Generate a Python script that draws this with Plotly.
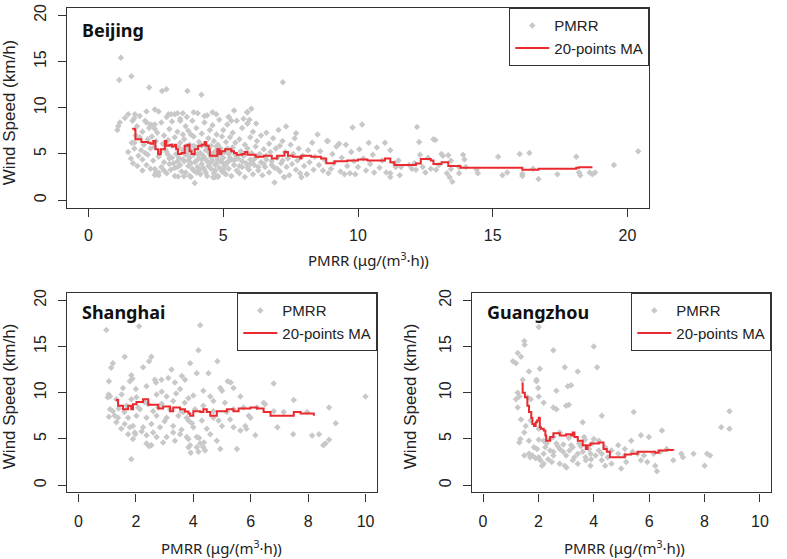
import plotly.graph_objects as go

# ---------------- data ----------------
bj_points = [
    (1.2, 15.4), (1.14, 13.0), (1.59, 13.4), (2.25, 12.2), (2.73, 11.8), (2.89, 12.0), (3.67, 11.8),
    (4.19, 11.4), (7.21, 12.76),
    (1.07, 7.6), (1.1, 8.0), (1.16, 8.4), (1.35, 8.9), (1.47, 9.3), (1.72, 9.3), (1.63, 8.6), (2.15, 9.6),
    (2.46, 9.8), (2.15, 8.4), (2.3, 8.2), (2.46, 8.2), (2.46, 7.7), (2.97, 9.3), (3.07, 9.3), (3.3, 9.4),
    (3.5, 9.4), (3.9, 9.5), (4.3, 9.1), (4.74, 9.3), (5.2, 9.0), (5.3, 8.6), (3.4, 8.6), (1.47, 5.2),
    (1.57, 4.5), (1.81, 3.7), (1.7, 6.2), (3.94, 1.86), (3.32, 2.55), (2.46, 3.37), (2.6, 3.0), (4.62, 2.47),
    (4.8, 2.6), (3.75, 2.65), (3.54, 2.58), (4.68, 2.47), (6.9, 1.9), (2.46, 2.72), (6.04, 9.9), (5.88, 9.5),
    (5.75, 8.8), (5.97, 8.7), (5.9, 8.3), (6.22, 8.3), (7.33, 7.96), (7.7, 7.24), (6.6, 7.3), (8.5, 7.1),
    (8.88, 6.4), (9.3, 6.1), (9.55, 6.0), (9.8, 7.85), (10.15, 8.2), (10.4, 6.2), (10.7, 5.7), (11.0, 6.2),
    (11.2, 5.4), (7.27, 2.47), (7.45, 2.7), (7.9, 2.47), (8.1, 2.8), (8.7, 3.2), (9.0, 3.4), (9.5, 2.8),
    (9.7, 2.9), (9.9, 2.8), (10.3, 3.2), (10.6, 3.0), (11.2, 2.9), (11.2, 2.5),
    (1.6, 6.2), (1.7, 5.6), (1.75, 7.0), (1.8, 8.0), (1.85, 4.8), (1.9, 6.8), (1.95, 5.4), (2.0, 7.4),
    (2.0, 4.4), (2.05, 6.0), (2.1, 8.6), (2.1, 5.1), (2.15, 3.8), (2.2, 6.6), (2.2, 4.9), (2.25, 7.8),
    (2.3, 5.6), (2.3, 3.4), (2.35, 6.9), (2.4, 4.3), (2.4, 8.1), (2.45, 5.8), (2.5, 3.0), (2.5, 6.4),
    (1.7, 8.9), (1.9, 9.1), (2.0, 3.2), (1.65, 4.0),
    (2.55, 7.3), (2.6, 4.7), (2.6, 2.7), (2.65, 5.2), (2.7, 8.4), (2.7, 3.6), (2.75, 6.1), (2.8, 4.1),
    (2.8, 7.0), (2.85, 5.5), (2.9, 2.9), (2.9, 9.0), (2.95, 6.5), (3.0, 4.5), (3.0, 7.7), (3.05, 3.3),
    (3.1, 5.9), (3.1, 8.5), (3.15, 4.0), (3.2, 6.8), (3.2, 2.6), (3.25, 5.0), (3.3, 7.4), (3.3, 3.6),
    (3.35, 4.6), (3.4, 6.2), (3.4, 8.8), (3.45, 3.1), (3.5, 5.4), (3.5, 7.1), (2.6, 9.6), (3.2, 9.3),
    (3.0, 3.9), (2.8, 3.2), (3.35, 5.7), (2.95, 4.9),
    (3.55, 4.2), (3.55, 6.6), (3.6, 3.0), (3.6, 8.0), (3.65, 5.0), (3.7, 3.7), (3.7, 7.5), (3.75, 4.6),
    (3.75, 6.0), (3.8, 2.5), (3.8, 5.4), (3.85, 8.6), (3.85, 3.4), (3.9, 4.9), (3.9, 6.9), (3.95, 4.1),
    (4.0, 3.0), (4.0, 5.7), (4.0, 7.8), (4.05, 3.6), (4.1, 4.5), (4.1, 6.3), (4.15, 2.8), (4.15, 5.1),
    (4.2, 7.2), (4.2, 3.9), (4.25, 4.8), (4.3, 8.4), (4.3, 6.0), (4.3, 3.3), (4.35, 5.4), (4.4, 2.6),
    (4.4, 4.2), (4.45, 6.7), (4.45, 3.7), (4.5, 5.0), (4.5, 7.6), (3.65, 9.0), (4.05, 9.4), (4.4, 9.2),
    (3.6, 5.8), (3.7, 4.3), (3.9, 3.2), (4.2, 5.9), (4.3, 4.6), (3.8, 7.1), (4.1, 3.4), (4.35, 3.0),
    (4.55, 3.4), (4.55, 5.9), (4.6, 4.3), (4.6, 8.1), (4.65, 2.9), (4.65, 6.4), (4.7, 3.8), (4.7, 5.3),
    (4.75, 7.1), (4.75, 4.7), (4.8, 2.5), (4.8, 6.0), (4.85, 3.5), (4.85, 8.7), (4.9, 4.2), (4.9, 5.6),
    (4.95, 6.9), (4.95, 3.1), (5.0, 4.6), (5.0, 7.6), (5.05, 3.7), (5.05, 5.2), (5.1, 6.3), (5.1, 2.8),
    (5.15, 4.1), (5.15, 8.2), (5.2, 5.0), (5.2, 3.4), (5.25, 6.8), (5.3, 4.4), (5.3, 2.6), (5.35, 5.7),
    (5.35, 7.3), (5.4, 3.8), (5.45, 4.9), (5.45, 6.2), (5.5, 3.2), (5.5, 8.6), (4.6, 9.5), (5.2, 9.0),
    (5.4, 9.7), (4.75, 4.0), (5.0, 3.3), (5.25, 4.6), (4.9, 5.0), (5.1, 3.9),
    (5.55, 4.5), (5.6, 6.6), (5.6, 2.9), (5.65, 5.3), (5.7, 3.6), (5.7, 7.8), (5.75, 4.8), (5.8, 6.0),
    (5.8, 2.5), (5.85, 4.0), (5.9, 5.6), (5.9, 8.3), (5.95, 3.3), (6.0, 6.8), (6.0, 4.4), (6.05, 5.1),
    (6.1, 2.8), (6.1, 7.4), (6.15, 3.8), (6.2, 5.8), (6.2, 4.6), (6.25, 6.4), (6.3, 3.2), (6.35, 5.0),
    (6.4, 7.0), (6.4, 4.1), (6.45, 2.7), (6.5, 5.5), (5.9, 9.5), (6.3, 3.6),
    (6.55, 3.6), (6.6, 4.8), (6.7, 6.1), (6.7, 3.0), (6.75, 5.2), (6.8, 4.2), (6.85, 6.7), (6.9, 3.5),
    (6.95, 5.6), (7.0, 4.6), (7.05, 7.6), (7.1, 3.1), (7.1, 5.9), (7.15, 4.0), (7.2, 6.4), (7.25, 2.5),
    (7.3, 5.2), (7.35, 3.6), (7.4, 4.5), (7.5, 6.0), (7.55, 3.9), (7.6, 5.0), (7.65, 6.7), (7.7, 3.3),
    (7.75, 4.3), (7.8, 5.6), (7.85, 2.9), (7.95, 4.8), (8.0, 3.7),
    (8.1, 2.8), (8.15, 5.4), (8.2, 4.1), (8.3, 6.2), (8.35, 3.3), (8.4, 4.7), (8.55, 3.8), (8.6, 5.3),
    (8.75, 4.4), (8.85, 6.4), (8.9, 2.9), (9.05, 5.0), (9.1, 4.0), (9.2, 5.8), (9.35, 3.1), (9.4, 4.6),
    (9.6, 3.7), (9.75, 5.2), (9.85, 4.2), (10.0, 3.6), (10.05, 5.5), (10.2, 4.5), (10.45, 3.9),
    (10.55, 4.9), (10.8, 3.5), (10.9, 4.3), (11.05, 3.0), (11.35, 4.0),
    (11.4, 3.6), (11.5, 4.3), (11.6, 3.6), (11.55, 2.7), (11.9, 3.8), (12.0, 3.4), (12.1, 4.0),
    (12.19, 7.92), (12.27, 6.3), (12.3, 4.9), (12.15, 3.3), (12.4, 3.6), (12.5, 3.0), (12.6, 4.6),
    (12.7, 3.4), (12.8, 6.6), (12.87, 6.5), (12.9, 3.3), (13.0, 3.8), (13.1, 5.0), (13.15, 4.8),
    (13.3, 2.9), (13.35, 4.87), (13.45, 4.27), (13.45, 3.37), (13.4, 2.47), (13.5, 2.0), (13.75, 3.6),
    (13.75, 2.9), (13.9, 4.9), (13.95, 4.4), (14.0, 3.6), (14.4, 3.3), (14.45, 2.9), (15.2, 4.7),
    (15.36, 2.7), (15.54, 3.0), (16.0, 5.0), (16.1, 2.85), (16.1, 2.6), (16.36, 5.1), (16.5, 3.4),
    (16.7, 2.3), (17.4, 2.8), (18.1, 4.7), (18.2, 3.0), (18.25, 2.7), (18.6, 3.0), (18.7, 2.8),
    (18.8, 3.0), (19.5, 3.8), (20.4, 5.3),
    (3.6, 4.9), (3.7, 5.5), (3.8, 4.0), (3.9, 5.9), (4.0, 4.3), (4.05, 5.0), (4.1, 3.1), (4.2, 4.4),
    (4.25, 3.5), (4.4, 5.6), (4.5, 4.0), (4.6, 5.0), (4.7, 3.2), (4.8, 4.4), (4.85, 5.3), (5.0, 4.0),
    (5.05, 2.9), (5.2, 4.2), (5.3, 5.3), (5.4, 4.3), (5.5, 4.7), (5.6, 3.7), (5.7, 4.2), (5.8, 4.9),
    (5.9, 3.5), (6.0, 3.9), (6.1, 4.3), (6.3, 4.8), (6.5, 3.9), (6.6, 4.4), (6.8, 3.8), (7.0, 3.4),
    (7.2, 4.3), (3.5, 4.4), (3.3, 4.2), (3.1, 4.6), (2.9, 5.2), (3.4, 3.8), (3.2, 3.5), (4.55, 4.6),
    (4.45, 5.3), (4.75, 5.8), (5.15, 5.6),
]

bj_ma = [
    (1.62, 7.74), (1.72, 7.6), (1.74, 6.6), (1.96, 6.3), (2.2, 6.2), (2.3, 6.1), (2.4, 6.4), (2.48, 5.5),
    (2.58, 4.98), (2.68, 5.5), (2.83, 6.4), (2.89, 5.9), (3.0, 6.0), (3.1, 5.8), (3.2, 6.0), (3.25, 5.5),
    (3.32, 5.0), (3.45, 5.1), (3.57, 5.9), (3.67, 6.0), (3.75, 5.3), (3.82, 5.0), (3.94, 5.5), (4.07, 5.9),
    (4.2, 6.0), (4.31, 6.3), (4.37, 5.9), (4.46, 5.5), (4.5, 4.8), (4.68, 4.8), (4.78, 5.5), (4.86, 5.0),
    (4.93, 5.3), (5.07, 5.5), (5.3, 5.3), (5.4, 5.1), (5.5, 4.9), (5.7, 5.0), (5.8, 5.2), (5.9, 4.9),
    (6.04, 4.9), (6.2, 4.7), (6.5, 4.8), (6.8, 4.5), (7.0, 4.8), (7.27, 5.2), (7.4, 4.8), (7.58, 4.7),
    (7.85, 4.5), (7.9, 4.8), (8.26, 4.7), (8.63, 4.5), (8.82, 4.0), (9.13, 4.2), (9.6, 4.3), (10.0, 4.4),
    (10.35, 4.3), (10.73, 4.3), (11.0, 4.5), (11.2, 4.1), (11.35, 3.8), (12.15, 3.97), (12.33, 4.44),
    (12.7, 4.3), (12.8, 3.9), (13.1, 4.1), (13.35, 3.7), (13.8, 3.5), (15.5, 3.5), (16.1, 3.3),
    (16.7, 3.4), (18.1, 3.5), (18.2, 3.55), (18.7, 3.55),
]

sh_points = [
    (0.97, 16.8), (2.11, 17.2), (4.24, 17.3), (4.18, 14.6), (1.61, 13.9), (1.2, 13.2), (2.54, 13.9),
    (2.46, 13.4), (4.84, 13.4), (3.89, 13.2), (3.24, 12.5), (1.14, 12.7), (2.25, 12.75), (1.84, 11.9),
    (1.88, 11.5), (1.79, 11.25), (3.13, 11.6), (3.6, 11.8), (4.12, 12.1), (4.53, 12.1), (2.66, 11.4),
    (2.7, 11.1), (2.89, 11.4), (1.06, 11.25), (5.2, 11.25), (5.3, 11.1), (6.8, 11.0), (3.36, 11.1),
    (3.71, 11.4), (2.0, 10.4), (2.37, 10.7), (1.55, 10.5), (4.94, 10.5), (5.0, 10.2), (3.54, 10.4),
    (4.35, 10.2), (5.4, 10.5), (1.05, 9.8), (1.1, 9.6), (1.02, 9.5), (2.72, 9.8), (3.07, 9.6),
    (4.59, 9.6), (5.64, 9.6), (1.32, 9.3), (1.84, 9.3), (2.02, 9.5), (3.3, 9.1), (3.83, 9.4), (4.7, 9.1),
    (6.45, 8.9), (6.5, 8.75), (7.5, 9.2), (10.0, 9.6), (8.73, 8.4), (6.8, 8.0), (5.75, 8.4), (5.4, 8.2),
    (4.35, 8.6), (1.1, 8.2), (1.2, 8.0), (1.38, 7.3), (1.06, 7.4), (1.73, 7.3), (2.02, 7.5), (2.37, 7.3),
    (2.72, 7.5), (3.07, 7.3), (3.48, 7.5), (3.77, 7.3), (3.83, 7.0), (4.7, 7.3), (4.88, 7.0), (5.28, 7.1),
    (5.93, 7.5), (5.99, 7.3), (1.32, 6.8), (1.61, 6.6), (1.79, 6.25), (1.9, 6.4), (2.25, 6.25),
    (2.54, 6.6), (2.84, 6.25), (3.3, 6.4), (3.59, 6.0), (4.0, 6.25), (4.47, 6.1), (5.0, 6.4), (5.4, 6.25),
    (5.81, 6.4), (5.85, 6.1), (6.16, 5.4), (6.93, 6.25), (8.96, 6.7), (7.48, 5.5), (8.38, 5.5),
    (8.14, 5.36), (8.73, 4.9), (8.6, 4.5), (8.53, 4.3), (1.49, 6.1), (1.73, 5.5), (1.96, 5.7), (1.98, 5.5),
    (1.9, 5.0), (2.37, 4.5), (2.46, 4.2), (2.54, 4.3), (2.72, 5.2), (3.07, 5.2), (2.95, 4.6), (3.36, 4.8),
    (3.77, 5.2), (3.83, 5.0), (4.12, 5.2), (4.2, 5.1), (3.89, 4.3), (3.83, 4.1), (4.24, 4.5), (4.12, 4.1),
    (4.35, 4.1), (4.37, 4.6), (4.82, 4.8), (4.94, 3.9), (5.52, 3.9), (3.91, 3.5), (4.18, 3.6),
    (4.41, 3.75), (1.84, 2.8), (2.37, 5.4), (3.3, 5.7), (3.54, 5.5), (4.59, 5.5), (5.64, 5.9), (2.6, 5.7),
    (1.26, 7.5), (2.08, 8.4), (2.14, 8.2), (1.67, 8.6), (2.43, 8.75), (2.78, 8.4), (3.19, 8.2),
    (3.59, 8.0), (3.65, 7.9), (4.06, 8.2), (4.7, 8.0), (5.17, 7.9), (6.22, 8.4), (7.15, 7.9), (7.97, 7.9),
    (1.5, 9.8), (2.3, 9.0), (2.9, 10.1), (3.4, 9.9), (4.0, 9.7), (1.4, 8.3), (2.6, 8.0), (3.0, 6.9),
    (3.95, 6.7), (4.3, 7.0), (2.2, 5.8), (1.6, 7.9), (2.9, 8.8), (3.7, 8.9), (5.1, 8.9),
]

sh_ma = [
    (1.3, 9.2), (1.38, 8.6), (1.55, 8.2), (1.73, 8.6), (1.84, 8.2), (1.9, 8.75), (2.02, 9.0), (2.25, 9.3),
    (2.37, 9.3), (2.43, 8.7), (2.6, 8.7), (2.78, 8.3), (2.95, 8.5), (3.19, 8.0), (3.3, 8.4), (3.54, 8.2),
    (3.71, 7.96), (3.83, 7.75), (3.89, 7.5), (4.0, 8.0), (4.24, 7.9), (4.35, 8.2), (4.47, 7.9),
    (4.59, 7.5), (4.7, 7.5), (4.82, 8.0), (5.17, 8.2), (5.4, 8.0), (5.58, 8.3), (5.99, 8.4), (6.22, 8.3),
    (6.45, 7.9), (6.69, 7.5), (7.15, 7.5), (7.5, 7.9), (7.74, 7.75), (8.2, 7.5),
]

gz_points = [
    (2.01, 17.1), (1.49, 15.6), (1.5, 15.2), (4.0, 15.0), (2.54, 14.6), (1.25, 14.3), (1.37, 13.9),
    (1.08, 13.4), (1.19, 13.2), (2.95, 12.75), (2.05, 12.6), (4.12, 12.75), (1.66, 12.3), (3.42, 12.3),
    (1.93, 11.4), (1.93, 11.25), (1.43, 11.4), (1.99, 10.5), (3.06, 10.7), (3.18, 10.8), (2.65, 10.2),
    (1.25, 10.0), (1.31, 9.6), (1.6, 9.5), (1.72, 9.3), (2.01, 9.6), (1.19, 9.3), (2.19, 8.9), (2.54, 8.4),
    (2.65, 8.2), (3.0, 8.6), (3.1, 8.7), (1.25, 8.4), (4.29, 7.5), (5.44, 7.9), (8.9, 8.0), (8.9, 6.1),
    (8.6, 6.25), (1.37, 7.1), (1.72, 7.0), (1.54, 6.4), (1.49, 5.7), (2.01, 6.1), (1.35, 5.0), (1.31, 4.6),
    (1.66, 4.8), (2.19, 4.8), (2.42, 5.0), (2.54, 5.2), (2.77, 5.7), (3.6, 6.8), (3.65, 5.2), (3.68, 4.9),
    (4.18, 4.8), (3.94, 4.5), (6.46, 5.9), (5.7, 5.4), (5.99, 5.2), (5.35, 4.8), (1.84, 4.1), (1.95, 3.9),
    (2.25, 4.1), (2.42, 3.75), (2.54, 3.6), (2.77, 3.9), (2.89, 3.6), (3.12, 3.75), (3.24, 4.1),
    (3.42, 3.4), (3.6, 3.6), (3.83, 3.9), (3.88, 3.4), (4.18, 3.75), (4.29, 3.4), (4.41, 4.1),
    (4.64, 3.75), (4.88, 3.4), (5.12, 3.2), (5.4, 3.6), (5.58, 3.4), (5.81, 3.2), (6.16, 3.4), (6.4, 3.6),
    (6.63, 3.9), (7.16, 3.4), (7.22, 3.0), (7.6, 3.4), (8.09, 3.4), (8.2, 3.2), (1.66, 3.4), (1.78, 3.2),
    (1.49, 3.2), (2.01, 3.0), (2.07, 2.7), (2.19, 2.3), (2.13, 2.1), (2.48, 2.5), (2.77, 2.3), (2.95, 2.1),
    (3.01, 1.9), (3.24, 2.7), (3.42, 2.3), (3.71, 2.7), (3.88, 2.1), (4.29, 2.7), (4.41, 2.1), (4.64, 2.3),
    (4.99, 1.8), (5.17, 2.5), (5.7, 2.7), (5.93, 2.5), (6.28, 1.5), (6.22, 2.1), (6.87, 2.7), (8.0, 2.1),
    (3.47, 4.5), (3.53, 4.2), (3.18, 4.3), (2.65, 4.5), (2.3, 4.5), (2.01, 4.9), (4.0, 5.0), (4.88, 4.3),
    (5.12, 3.9), (3.0, 3.2), (2.54, 3.2), (2.19, 3.4), (4.06, 3.2), (3.7, 3.0), (1.9, 2.9), (2.35, 2.8),
    (2.7, 4.2), (3.3, 3.0), (4.5, 3.0), (3.9, 2.8), (2.9, 4.4), (3.1, 5.1), (1.7, 3.0),
]

gz_ma = [
    (1.39, 11.0), (1.43, 10.0), (1.51, 9.5), (1.6, 8.6), (1.66, 7.9), (1.74, 7.3), (1.78, 6.6),
    (1.84, 6.4), (1.9, 6.8), (1.95, 7.0), (2.01, 7.3), (2.05, 6.25), (2.09, 6.1), (2.19, 5.9),
    (2.25, 5.36), (2.28, 4.8), (2.42, 5.2), (2.54, 5.6), (2.77, 5.36), (3.0, 5.5), (3.18, 5.36),
    (3.24, 5.7), (3.3, 5.2), (3.42, 4.8), (3.6, 4.3), (3.71, 3.9), (3.77, 4.3), (3.88, 4.5), (4.0, 4.5),
    (4.18, 4.6), (4.29, 4.6), (4.35, 3.9), (4.47, 3.6), (4.58, 3.0), (4.88, 3.0), (5.12, 3.3),
    (5.35, 3.4), (5.58, 3.6), (5.93, 3.6), (6.22, 3.5), (6.34, 3.75), (6.63, 3.8), (6.87, 3.75),
]

cities = ["Beijing", "Shanghai", "Guangzhou"]
y_ticks = [0, 5, 10, 15, 20]
bj_x_ticks = [0, 5, 10, 15, 20]
city_x_ticks = [0, 2, 4, 6, 8, 10]

# ---------------- styling ----------------
W, H = 787, 559
PT_COLOR = "#C8C8C8"
MA_COLOR = "#EA2A2E"
AX_COLOR = "#333333"
TXT = "#222222"
SANS = "Liberation Sans, Arial, sans-serif"
TITLE_FONT = "Noto Sans, DejaVu Sans, sans-serif"


def px_x(v):
    return v / W


def px_y(v):
    return 1 - v / H


fig = go.Figure()

panels = [
    (bj_points, bj_ma, "x", "y", "legend"),
    (sh_points, sh_ma, "x2", "y2", "legend2"),
    (gz_points, gz_ma, "x3", "y3", "legend3"),
]
for pts, ma, xa, ya, lg in panels:
    fig.add_trace(go.Scatter(
        x=[p[0] for p in pts], y=[p[1] for p in pts], mode="markers", name="PMRR",
        marker=dict(symbol="diamond", size=5, color=PT_COLOR, line=dict(width=0)),
        xaxis=xa, yaxis=ya, legend=lg, showlegend=True))
    fig.add_trace(go.Scatter(
        x=[p[0] for p in ma], y=[p[1] for p in ma], mode="lines", name="20-points MA",
        line=dict(color=MA_COLOR, width=2, shape="hv"),
        xaxis=xa, yaxis=ya, legend=lg, showlegend=True))

axis_common = dict(showline=True, mirror=True, linecolor=AX_COLOR, linewidth=1.3,
                   ticks="outside", ticklen=8, tickwidth=1.3, tickcolor=AX_COLOR,
                   showgrid=False, zeroline=False,
                   tickfont=dict(family=SANS, size=16, color=TXT))

top_y = [px_y(205), px_y(4)]
bot_y = [px_y(492), px_y(291)]

fig.update_layout(
    xaxis=dict(domain=[px_x(67), px_x(649)], range=[-0.8, 20.8], tickvals=bj_x_ticks,
               anchor="y", ticklabelstandoff=5, **axis_common),
    yaxis=dict(domain=top_y, range=[-0.8, 20.8], tickvals=y_ticks, tickangle=-90,
               anchor="x", ticklabelstandoff=5, **axis_common),
    xaxis2=dict(domain=[px_x(67), px_x(377)], range=[-0.4, 10.4], tickvals=city_x_ticks,
                anchor="y2", ticklabelstandoff=6, **axis_common),
    yaxis2=dict(domain=bot_y, range=[-0.8, 20.8], tickvals=y_ticks, tickangle=-90,
                anchor="x2", ticklabelstandoff=5, **axis_common),
    xaxis3=dict(domain=[px_x(472), px_x(771)], range=[-0.4, 10.4], tickvals=city_x_ticks,
                anchor="y3", ticklabelstandoff=6, **axis_common),
    yaxis3=dict(domain=bot_y, range=[-0.8, 20.8], tickvals=y_ticks, tickangle=-90,
                anchor="x3", ticklabelstandoff=5, **axis_common),
)

legend_common = dict(bgcolor="white", bordercolor=AX_COLOR, borderwidth=1.3,
                     font=dict(family=SANS, size=15, color=TXT),
                     xanchor="right", yanchor="top", tracegroupgap=0, itemwidth=34)
fig.update_layout(
    legend=dict(x=px_x(649), y=px_y(4), **legend_common),
    legend2=dict(x=px_x(377), y=px_y(291), **legend_common),
    legend3=dict(x=px_x(771), y=px_y(291), **legend_common),
)

annotations = []
# panel titles
for name, (lx, cy) in zip(cities, [(80, 26), (80, 310), (485, 310)]):
    annotations.append(dict(text=f"<b>{name}</b>", x=px_x(lx), y=px_y(cy), xref="paper", yref="paper",
                            xanchor="left", yanchor="middle", showarrow=False,
                            font=dict(family=TITLE_FONT, size=18, color="#111111")))
# x axis titles
for cx, cy in [(368, 257), (222, 547), (624, 547)]:
    annotations.append(dict(text="PMRR (μg/(m<sup>3</sup>·h))", x=px_x(cx), y=px_y(cy),
                            xref="paper", yref="paper", xanchor="center", yanchor="middle",
                            showarrow=False, font=dict(family=TITLE_FONT, size=15, color=TXT)))
# y axis titles
for cx, cy in [(9, 109), (9, 395), (410, 395)]:
    annotations.append(dict(text="Wind Speed (km/h)", x=px_x(cx), y=px_y(cy), textangle=-90,
                            xref="paper", yref="paper", xanchor="center", yanchor="middle",
                            showarrow=False, font=dict(family=SANS, size=17, color=TXT)))

fig.update_layout(
    width=W, height=H, margin=dict(l=0, r=0, t=0, b=0),
    paper_bgcolor="white", plot_bgcolor="white",
    annotations=annotations,
)

fig.write_html("out.html", config={"displayModeBar": False},
               post_script="document.body.style.margin='0px';")
